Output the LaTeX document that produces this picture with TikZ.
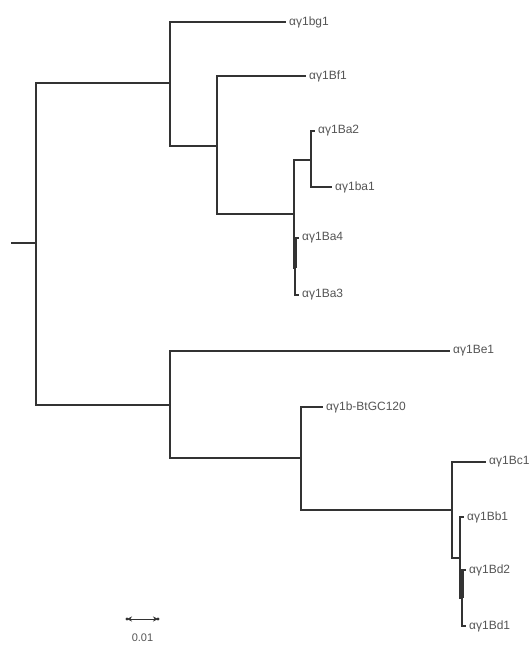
\documentclass[tikz,border=0pt]{standalone}
\usepackage{fontspec}
\setmainfont{Liberation Sans}
\usetikzlibrary{arrows.meta}
\definecolor{br}{HTML}{333333}
\definecolor{tx}{HTML}{555555}
\begin{document}
\begin{tikzpicture}[x=1pt,y=-1pt,
  branch/.style={draw=br,line width=1.5pt,line cap=rect},
  leaf/.style={anchor=west,inner xsep=4pt,inner ysep=2pt,text=tx,font=\fontsize{12}{14}\selectfont},
  thickpart/.style={draw=br,line width=3pt}]
\useasboundingbox (0,0) rectangle (528,645);
\clip (0,0) rectangle (528,645);
\fill[white] (0,0) rectangle (528,645);
% internal nodes
\coordinate (r0) at (12,243);
\coordinate (root) at (36,243);
\coordinate (u1) at (170,83);
\coordinate (u2) at (217,146);
\coordinate (u3) at (294,214);
\coordinate (u4) at (311,160);
\coordinate (u5) at (295,268);
\coordinate (l1) at (170,405);
\coordinate (l2) at (301,458);
\coordinate (l3) at (452,510);
\coordinate (l4) at (460,558);
\coordinate (l5) at (462,598);
% leaves
\node[leaf] (bg1) at (285,22) {αγ1bg1};
\node[leaf] (bf1) at (305,76) {αγ1Bf1};
\node[leaf] (ba2) at (314,131) {αγ1Ba2};
\node[leaf] (ba1) at (331,187) {αγ1ba1};
\node[leaf] (ba4) at (298,238) {αγ1Ba4};
\node[leaf] (ba3) at (298,295) {αγ1Ba3};
\node[leaf] (be1) at (449,351) {αγ1Be1};
\node[leaf] (gc) at (322,407) {αγ1b-BtGC120};
\node[leaf] (bc1) at (485,462) {αγ1Bc1};
\node[leaf] (bb1) at (463,517) {αγ1Bb1};
\node[leaf] (bd2) at (465,570) {αγ1Bd2};
\node[leaf] (bd1) at (465,626) {αγ1Bd1};
% branches
\draw[branch] (r0) -- (root);
\draw[branch] (root) |- (u1);
\draw[branch] (root) |- (l1);
\draw[branch] (u1) |- (bg1.west);
\draw[branch] (u1) |- (u2);
\draw[branch] (u2) |- (bf1.west);
\draw[branch] (u2) |- (u3);
\draw[branch] (u3) |- (u4);
\draw[branch] (u4) |- (ba2.west);
\draw[branch] (u4) |- (ba1.west);
\draw[branch] (u3) |- (u5);
\draw[branch] (u5) |- (ba4.west);
\draw[branch] (u5) |- (ba3.west);
\draw[thickpart] (u5 |- ba4.west) -- (u5);
\draw[branch] (l1) |- (be1.west);
\draw[branch] (l1) |- (l2);
\draw[branch] (l2) |- (gc.west);
\draw[branch] (l2) |- (l3);
\draw[branch] (l3) |- (bc1.west);
\draw[branch] (l3) |- (l4);
\draw[branch] (l4) |- (bb1.west);
\draw[branch] (l4) |- (l5);
\draw[branch] (l5) |- (bd2.west);
\draw[branch] (l5) |- (bd1.west);
\draw[thickpart] (l5 |- bd2.west) -- (l5);
% scale bar
\coordinate (s1) at (127,619);
\coordinate (s2) at (158,619);
\draw[draw=br,line width=1pt,{Stealth[length=5pt,width=5pt]}-{Stealth[length=5pt,width=5pt]}] (s1) -- (s2);
\fill[br] (s1) circle (1.6pt) (s2) circle (1.6pt);
\node[leaf,anchor=north,font=\fontsize{11}{13}\selectfont] (sl) at (142.5,632) {0.01};
\end{tikzpicture}
\end{document}
